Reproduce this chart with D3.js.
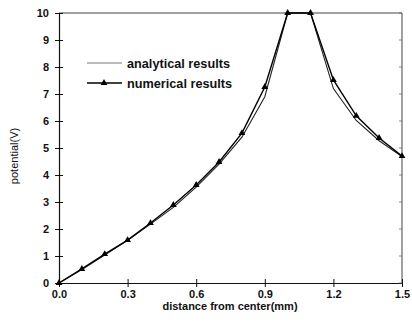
<!DOCTYPE html>
<html>
<head>
<meta charset="utf-8">
<script src="https://cdn.jsdelivr.net/npm/d3@7"></script>
<style>
  body { margin: 0; background: #fff; }
  svg { font-family: "Liberation Sans", Arial, sans-serif; }
</style>
</head>
<body>
<div id="chart"></div>
<script>
// x positions (mm)
const distance = [0, 0.1, 0.2, 0.3, 0.4, 0.5, 0.6, 0.7, 0.8, 0.9, 1.0, 1.1, 1.2, 1.3, 1.4, 1.5];
// potential (V)
const analytical = [0, 0.5, 1.04, 1.58, 2.18, 2.8, 3.55, 4.4, 5.4, 6.9, 10, 10, 7.2, 6.02, 5.27, 4.68];
const numerical  = [0, 0.52, 1.07, 1.59, 2.22, 2.89, 3.63, 4.48, 5.55, 7.26, 10, 10, 7.52, 6.19, 5.37, 4.7];
const xTicks = [0, 0.3, 0.6, 0.9, 1.2, 1.5];
const yTicks = [0, 1, 2, 3, 4, 5, 6, 7, 8, 9, 10];
const legendLabels = ["analytical results", "numerical results"];

const W = 412, H = 324;
const margin = {top: 13, right: 10, bottom: 41, left: 59};

const svg = d3.select("#chart").append("svg")
  .attr("width", W)
  .attr("height", H);

const x = d3.scaleLinear().domain([0, 1.5]).range([margin.left, W - margin.right]);
const y = d3.scaleLinear().domain([0, 10]).range([H - margin.bottom, margin.top]);

// frame: top and right
svg.append("path")
  .attr("d", `M${x(0)},${y(10)}H${x(1.5)}V${y(0)}`)
  .attr("fill", "none")
  .attr("stroke", "#444")
  .attr("stroke-width", 1);

// bottom axis
const xAxis = d3.axisBottom(x)
  .tickValues(xTicks)
  .tickFormat(d3.format(".1f"))
  .tickSizeInner(4)
  .tickSizeOuter(0)
  .tickPadding(3);
const gx = svg.append("g")
  .attr("transform", `translate(0,${y(0)})`)
  .call(xAxis);
gx.selectAll(".tick line").attr("y1", -4).attr("y2", 4);

// left axis
const yAxis = d3.axisLeft(y)
  .tickValues(yTicks)
  .tickFormat(d3.format("d"))
  .tickSizeInner(4)
  .tickSizeOuter(0)
  .tickPadding(6);
const gy = svg.append("g")
  .attr("transform", `translate(${x(0)},0)`)
  .call(yAxis);
gy.selectAll(".tick line").attr("x1", -4).attr("x2", 4);

[gx, gy].forEach(g => {
  g.select(".domain").attr("stroke", "#111").attr("stroke-width", 1.2);
  g.selectAll(".tick line").attr("stroke", "#111");
  g.selectAll(".tick text")
    .attr("font-size", 11)
    .attr("font-weight", "bold")
    .attr("fill", "#111")
    .attr("font-family", "'Liberation Sans', Arial, sans-serif");
});

// small inward ticks on right side
svg.append("g").selectAll("line")
  .data(yTicks)
  .join("line")
  .attr("x1", x(1.5) - 3)
  .attr("x2", x(1.5))
  .attr("y1", d => y(d))
  .attr("y2", d => y(d))
  .attr("stroke", "#666")
  .attr("stroke-width", 0.8);

const line = d3.line()
  .x((d, i) => x(distance[i]))
  .y(d => y(d));

svg.append("path")
  .datum(analytical)
  .attr("d", line)
  .attr("fill", "none")
  .attr("stroke", "#222")
  .attr("stroke-width", 1.1);

svg.append("path")
  .datum(numerical)
  .attr("d", line)
  .attr("fill", "none")
  .attr("stroke", "#000")
  .attr("stroke-width", 1.4);

const tri = d3.symbol().type(d3.symbolTriangle).size(20);
svg.append("g").selectAll("path")
  .data(numerical)
  .join("path")
  .attr("d", tri)
  .attr("transform", (d, i) => `translate(${x(distance[i])},${y(d)})`)
  .attr("fill", "#000");

// legend
const leg = svg.append("g");
legendLabels.forEach((lab, i) => {
  const ly = 63 + i * 20;
  leg.append("line")
    .attr("x1", 87).attr("x2", 122)
    .attr("y1", ly).attr("y2", ly)
    .attr("stroke", i === 0 ? "#777" : "#000")
    .attr("stroke-width", i === 0 ? 1 : 1.4);
  if (i === 1) {
    leg.append("path")
      .attr("d", tri)
      .attr("transform", `translate(104,${ly})`)
      .attr("fill", "#000");
  }
  leg.append("text")
    .attr("x", 127)
    .attr("y", ly + 4.5)
    .attr("font-size", 12.7)
    .attr("font-weight", "bold")
    .attr("fill", "#111")
    .text(lab);
});

// axis titles
svg.append("text")
  .attr("x", 230)
  .attr("y", 310)
  .attr("text-anchor", "middle")
  .attr("font-size", 11)
  .attr("font-weight", "bold")
  .attr("fill", "#111")
  .text("distance from center(mm)");

svg.append("text")
  .attr("transform", `translate(18,156) rotate(-90)`)
  .attr("text-anchor", "middle")
  .attr("font-size", 11)
  .attr("fill", "#111")
  .text("potential(V)");
</script>
</body>
</html>
